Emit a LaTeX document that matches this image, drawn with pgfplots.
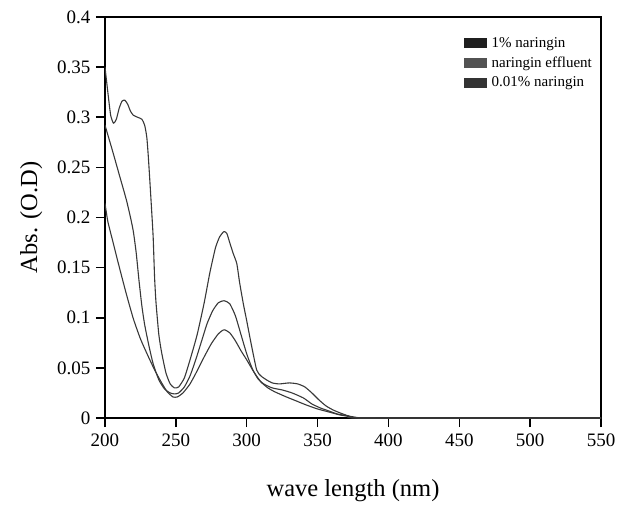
\documentclass[border=0pt]{standalone}
\usepackage{fontspec}
\setmainfont{Liberation Serif}
\usepackage{pgfplots}
\pgfplotsset{compat=1.18}

\begin{document}
\begin{tikzpicture}
\begin{axis}[
  name=ax,
  scale only axis,
  width=496pt, height=401pt,
  xmin=200, xmax=550, ymin=0, ymax=0.4,
  xtick={200,250,...,550},
  ytick={0,0.05,...,0.4},
  /pgf/number format/assume math mode=true,
  /pgf/number format/fixed,
  /pgf/number format/precision=2,
  tick label style={font=\fontsize{19}{22}\selectfont},
  xtick pos=left, ytick pos=left,
  tick align=outside,
  major tick length=9pt,
  axis line style={line width=1.5pt},
  every tick/.style={line width=1.5pt, black},
  xticklabel style={yshift=-3pt},
  yticklabel style={xshift=-2pt},
  xlabel={wave length (nm)},
  ylabel={Abs. (O.D)},
  label style={font=\fontsize{24.5}{28}\selectfont},
  xlabel style={yshift=-26pt},
  ylabel style={yshift=8pt},
  legend style={draw=none, fill=none, at={(rel axis cs:0.724,0.955)}, anchor=north west,
    font=\fontsize{15}{17}\selectfont, row sep=4pt, inner sep=0pt},
  legend cell align=left,
]
\addlegendimage{legend image code/.code={\fill[black!88] (0pt,-4.5pt) rectangle (22pt,4.5pt); \path (25pt,0pt);}}
\addlegendentry{1\% naringin}
\addlegendimage{legend image code/.code={\fill[black!68] (0pt,-4.5pt) rectangle (22pt,4.5pt); \path (25pt,0pt);}}
\addlegendentry{naringin effluent}
\addlegendimage{legend image code/.code={\fill[black!80] (0pt,-4.5pt) rectangle (22pt,4.5pt); \path (25pt,0pt);}}
\addlegendentry{0.01\% naringin}

% 1% naringin
\addplot[black!78, line width=1.1pt, line join=round, smooth, tension=0.35, forget plot] coordinates {
(200,0.350)(202,0.325)(204,0.302)(206,0.294)(208,0.298)(210,0.309)(212,0.316)(214,0.317)
(216,0.313)(218,0.306)(220,0.302)(223,0.300)(226,0.298)(228,0.292)(229.5,0.280)(230.5,0.262)
(231.5,0.240)(233,0.205)(234,0.180)(235,0.140)(236,0.115)(238,0.083)(240,0.065)(243,0.045)
(246,0.034)(249,0.030)(252,0.031)(256,0.040)(260,0.058)(265,0.083)(270,0.115)(274,0.145)
(278,0.170)(281,0.181)(284,0.186)(286,0.184)(288,0.175)(290.5,0.164)(293,0.154)(295,0.135)
(297.6,0.114)(300,0.097)(303,0.075)(307,0.048)(310,0.042)(314,0.038)(318,0.035)(323,0.034)
(330,0.035)(336,0.034)(341,0.031)(346,0.025)(351,0.018)(356,0.012)(361,0.008)(366,0.005)
(372,0.002)(378,0.0005)(383,0)(550,0)};

% naringin effluent
\addplot[black!78, line width=1.1pt, line join=round, smooth, tension=0.35, forget plot] coordinates {
(200,0.292)(205,0.268)(210,0.243)(215,0.218)(218,0.200)(220,0.186)(222,0.165)(224,0.137)
(226,0.112)(228,0.093)(231,0.072)(234,0.054)(238,0.038)(242,0.029)(246,0.025)(249,0.024)
(252,0.025)(256,0.031)(260,0.042)(264,0.058)(268,0.076)(272,0.094)(276,0.107)(280,0.115)
(284,0.117)(288,0.114)(292,0.102)(296,0.083)(300,0.064)(304,0.049)(308,0.039)(312,0.034)
(318,0.030)(325,0.028)(332,0.025)(340,0.020)(346,0.014)(352,0.010)(358,0.007)(364,0.004)
(372,0.002)(382,0)(550,0)};

% 0.01% naringin
\addplot[black!78, line width=1.1pt, line join=round, smooth, tension=0.35, forget plot] coordinates {
(200,0.214)(202,0.196)(205,0.179)(210,0.151)(215,0.124)(220,0.099)(225,0.079)(230,0.063)
(235,0.048)(240,0.035)(244,0.026)(248,0.021)(251,0.021)(255,0.025)(260,0.034)(265,0.047)
(270,0.061)(275,0.074)(280,0.084)(284,0.088)(288,0.085)(292,0.077)(296,0.067)(300,0.058)
(305,0.046)(310,0.036)(315,0.030)(320,0.026)(328,0.021)(335,0.017)(342,0.013)(350,0.009)
(358,0.006)(366,0.003)(375,0.001)(383,0)(550,0)};
\end{axis}
\path ([shift={(-105pt,-84pt)}]ax.south west) rectangle ([shift={(26pt,17pt)}]ax.north east);
\end{tikzpicture}
\end{document}
